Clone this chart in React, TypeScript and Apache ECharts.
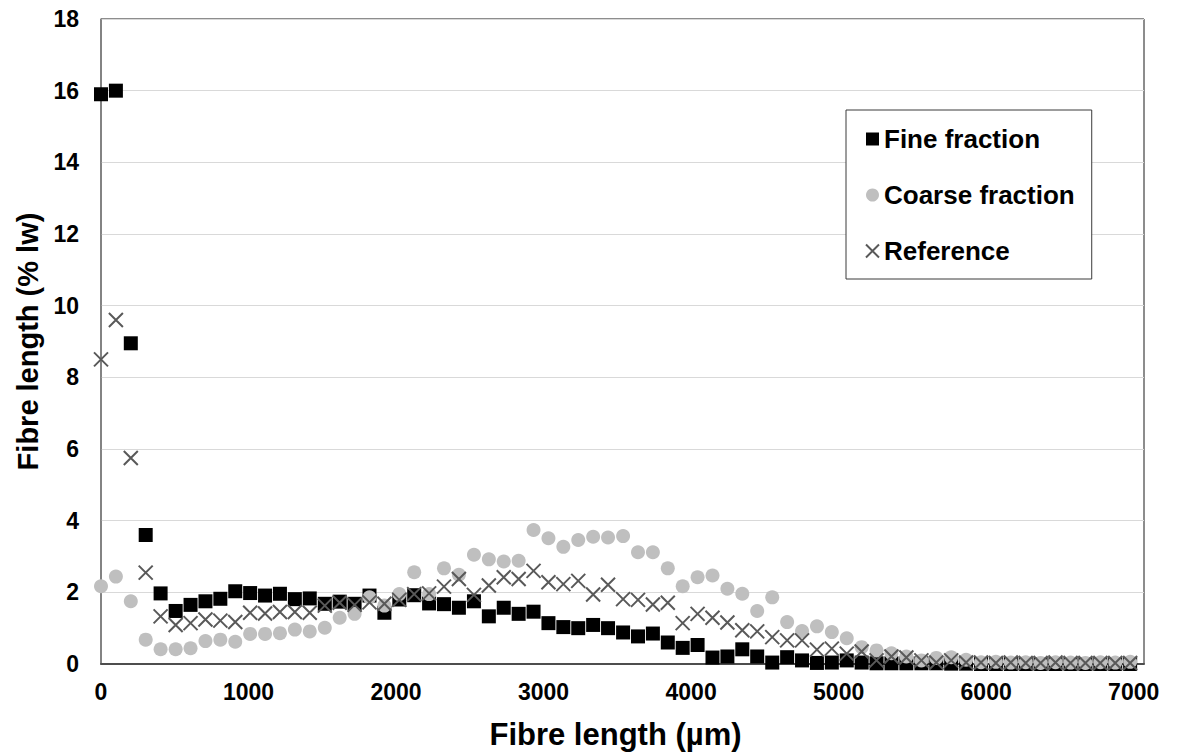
import React, { useEffect, useRef } from "react";
import * as echarts from "echarts";

// bin positions as read against the x-axis labels (regular step of ~101 µm)
const X_STEP = 101.1;
const xValues: number[] = Array.from({ length: 70 }, (_, i) => Math.round(i * X_STEP));

const fineFraction: number[] = [
  15.9, 16.0, 8.95, 3.6, 1.97, 1.48, 1.65, 1.75, 1.82, 2.03,
  1.98, 1.91, 1.96, 1.81, 1.83, 1.68, 1.74, 1.68, 1.91, 1.43,
  1.8, 1.92, 1.69, 1.67, 1.57, 1.75, 1.33, 1.57, 1.4, 1.46,
  1.14, 1.03, 1.0, 1.09, 1.0, 0.88, 0.77, 0.85, 0.6, 0.45,
  0.53, 0.18, 0.21, 0.41, 0.21, 0.04, 0.19, 0.1, 0.03, 0.04,
  0.1, 0.04, 0.02, 0.02, 0.02, 0.02, 0.02, 0.01, 0.01, 0,
  0, 0, 0, 0, 0, 0, 0, 0, 0, 0,
];

const coarseFraction: number[] = [
  2.17, 2.44, 1.75, 0.68, 0.41, 0.41, 0.44, 0.64, 0.68, 0.62,
  0.84, 0.84, 0.86, 0.96, 0.91, 1.01, 1.29, 1.4, 1.86, 1.63,
  1.95, 2.56, 1.95, 2.67, 2.49, 3.05, 2.92, 2.86, 2.88, 3.74,
  3.51, 3.27, 3.46, 3.55, 3.53, 3.57, 3.12, 3.12, 2.67, 2.17,
  2.42, 2.47, 2.1, 1.96, 1.48, 1.86, 1.17, 0.92, 1.05, 0.89,
  0.72, 0.47, 0.38, 0.3, 0.21, 0.1, 0.17, 0.19, 0.12, 0.05,
  0.06, 0.04, 0.05, 0.03, 0.05, 0.04, 0.03, 0.05, 0.04, 0.06,
];

const reference: number[] = [
  8.5, 9.6, 5.75, 2.55, 1.33, 1.09, 1.14, 1.24, 1.21, 1.17,
  1.43, 1.41, 1.45, 1.45, 1.43, 1.63, 1.71, 1.65, 1.72, 1.68,
  1.79, 1.95, 1.97, 2.16, 2.37, 1.93, 2.19, 2.42, 2.37, 2.6,
  2.28, 2.23, 2.32, 1.94, 2.21, 1.81, 1.79, 1.66, 1.71, 1.14,
  1.4, 1.29, 1.16, 0.94, 0.91, 0.75, 0.66, 0.66, 0.4, 0.43,
  0.29, 0.35, 0.1, 0.21, 0.18, 0.1, 0.04, 0.1, 0.04, 0.04,
  0.03, 0.04, 0.03, 0.03, 0.04, 0.03, 0.03, 0.03, 0.03, 0.03,
];

const seriesNames = ["Fine fraction", "Coarse fraction", "Reference"];
const xTitle = "Fibre length (µm)";
const yTitle = "Fibre length (% lw)";
const X_MAX = 7070; // plot frame extends slightly past the 7000 label

const FONT = "'Liberation Sans', Arial, sans-serif";
const CROSS = "path://M0,0L10,10M10,0L0,10";

const pairs = (ys: number[]) => xValues.map((x, i) => [x, ys[i]]);

export default function App() {
  const ref = useRef<HTMLDivElement>(null);
  useEffect(() => {
    if (!ref.current) return;
    const chart = echarts.init(ref.current, undefined, { renderer: "svg" });
    chart.setOption({
      animation: false,
      backgroundColor: "#ffffff",
      textStyle: { fontFamily: FONT },
      grid: {
        left: 101,
        right: 40,
        top: 19,
        bottom: 88,
        show: true,
        borderColor: "#1a1a1a",
        borderWidth: 1,
        backgroundColor: "transparent",
      },
      legend: {
        orient: "vertical",
        left: 846,
        top: 110,
        padding: [16, 17, 15, 19],
        itemGap: 30,
        itemWidth: 13,
        itemHeight: 13,
        backgroundColor: "#ffffff",
        borderColor: "#3a3a3a",
        borderWidth: 1,
        textStyle: { fontFamily: FONT, fontWeight: "bold", fontSize: 26, color: "#000" },
        data: seriesNames,
      },
      xAxis: {
        type: "value",
        min: 0,
        max: X_MAX,
        interval: 1000,
        name: xTitle,
        nameLocation: "middle",
        nameGap: 55,
        nameTextStyle: { fontFamily: FONT, fontWeight: "bold", fontSize: 31, color: "#000", padding: [0, 14, 0, 0] },
        axisLine: { show: true, onZero: false, lineStyle: { color: "#4d4d4d", width: 2 } },
        axisTick: { show: false },
        axisLabel: {
          margin: 16,
          fontFamily: FONT,
          fontWeight: "bold",
          fontSize: 23,
          color: "#000",
          showMaxLabel: false,
          formatter: (v: number) => (v % 1000 === 0 ? String(v) : ""),
        },
        splitLine: { show: false },
      },
      yAxis: {
        type: "value",
        min: 0,
        max: 18,
        interval: 2,
        name: yTitle,
        nameLocation: "middle",
        nameGap: 57,
        nameTextStyle: { fontFamily: FONT, fontWeight: "bold", fontSize: 29, color: "#000" },
        axisLine: { show: true, lineStyle: { color: "#808080", width: 1.5 } },
        axisTick: { show: false },
        axisLabel: { margin: 22, fontFamily: FONT, fontWeight: "bold", fontSize: 23, color: "#000" },
        splitLine: { show: true, lineStyle: { color: "#d9d9d9", width: 1 } },
      },
      series: [
        {
          name: seriesNames[0],
          type: "scatter",
          symbol: "rect",
          symbolSize: 14,
          itemStyle: { color: "#000000", opacity: 1 },
          data: pairs(fineFraction),
        },
        {
          name: seriesNames[1],
          type: "scatter",
          symbol: "circle",
          symbolSize: 14,
          itemStyle: { color: "#bfbfbf", opacity: 1 },
          data: pairs(coarseFraction),
        },
        {
          name: seriesNames[2],
          type: "scatter",
          symbol: CROSS,
          symbolSize: 14,
          itemStyle: { color: "transparent", borderColor: "#595959", borderWidth: 2, opacity: 1 },
          data: pairs(reference),
        },
      ],
    });
    return () => chart.dispose();
  }, []);
  return (
    <div
      ref={ref}
      style={{ position: "absolute", left: 0, top: 0, width: 1184, height: 755 }}
    />
  );
}
